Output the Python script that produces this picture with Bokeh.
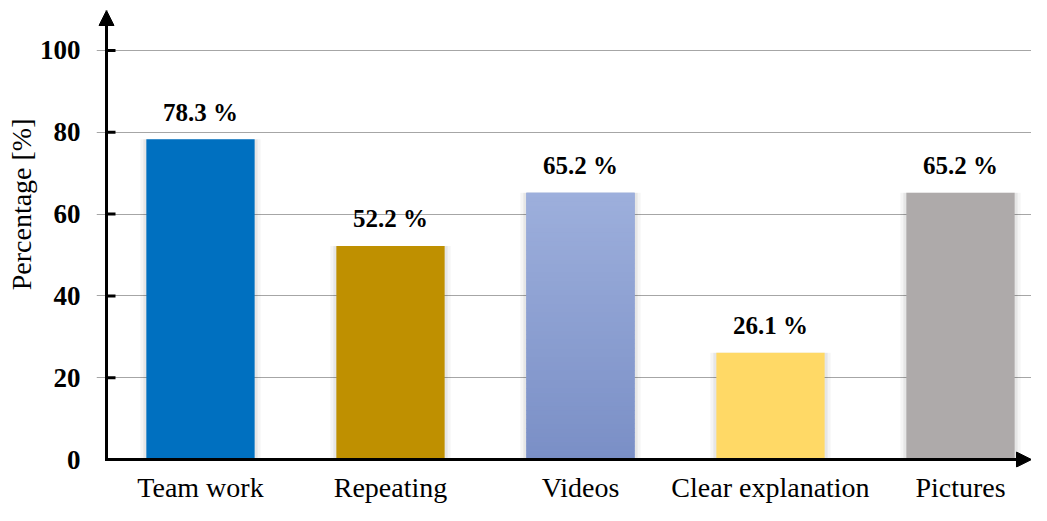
import numpy as np
from bokeh.plotting import figure
from bokeh.core.properties import value
from bokeh.models import (Range1d, FixedTicker, Arrow, NormalHead, Title,
                          ColumnDataSource)
from bokeh.embed import file_html
from bokeh.resources import INLINE

# ---- data ----
categories = ["Team work", "Repeating", "Videos", "Clear explanation", "Pictures"]
values = [78.3, 52.2, 65.2, 26.1, 65.2]
colors = ["#0070C0", "#BF9000", "#8A9ED2", "#FFD966", "#AEAAAA"]
gradients = [None, None, ("#7A8FC6", "#9DAFDC"), None, None]  # (bottom, top)
y_ticks = [0, 20, 40, 60, 80, 100]
y_title = "Percentage [%]"

FONT = "Liberation Serif"
AXFONT = '"Liberation Serif"'
BAR_W = 0.57
PX_X = 190.0          # px per category
X0 = -0.4947          # data x of the y-axis line
W, H = 1031, 505
LEFT = 96             # canvas x of frame left (axis line at LEFT+10)
TOP = 10
AXIS_Y = 462          # canvas y of the x-axis line
Y1 = 109.76
PX_Y = (AXIS_Y - TOP) / Y1
BOTTOM_BORDER = H - AXIS_Y - 8
Y0 = -8 / PX_Y
XS = X0 - 10 / PX_X
XE = XS + (W - LEFT) / PX_X

p = figure(width=W, height=H, output_backend="svg", toolbar_location=None,
           x_range=Range1d(XS, XE), y_range=Range1d(Y0, Y1),
           min_border_left=LEFT, min_border_right=0, min_border_top=TOP,
           min_border_bottom=BOTTOM_BORDER)
p.outline_line_color = None
p.background_fill_color = "white"
p.border_fill_color = "white"

xs = list(range(len(categories)))

# shadows
p.vbar(x=xs, top=values, width=BAR_W + 12 / PX_X, fill_color="black",
       fill_alpha=0.04, line_color=None)
p.vbar(x=xs, top=values, width=BAR_W + 6 / PX_X, fill_color="black",
       fill_alpha=0.06, line_color=None)

# bars
src = ColumnDataSource(dict(x=xs, top=values, color=colors,
                            label=[f"{v:.1f} %" for v in values]))
p.vbar(x="x", top="top", width=BAR_W, fill_color="color", line_color=None,
       source=src)

# gradient bars
N = 60
for i, (v, g) in enumerate(zip(values, gradients)):
    if g is None:
        continue
    c0 = np.array([int(g[0][k:k + 2], 16) for k in (1, 3, 5)], float)
    c1 = np.array([int(g[1][k:k + 2], 16) for k in (1, 3, 5)], float)
    bottoms, tops, cols = [], [], []
    for j in range(N):
        t = (j + 0.5) / N
        c = c0 + (c1 - c0) * t
        cols.append("#%02x%02x%02x" % tuple(int(round(z)) for z in c))
        bottoms.append(v * j / N)
        tops.append(min(v, v * (j + 1) / N + v * 0.002))
    p.vbar(x=[i] * N, bottom=bottoms, top=tops, width=BAR_W, fill_color=cols,
           line_color=None)

# value labels
p.text(x="x", y="top", text="label", source=src, y_offset=-27,
       text_align="center", text_baseline="alphabetic",
       text_font=value(FONT), text_font_size="25px",
       text_font_style="bold", text_color="black")

# grid
p.xgrid.visible = False
p.ygrid.grid_line_color = "#A6A6A6"
p.ygrid.grid_line_width = 1
p.ygrid.ticker = FixedTicker(ticks=y_ticks[1:])

# y axis (labels only; line and ticks drawn below)
p.yaxis.ticker = FixedTicker(ticks=y_ticks)
p.yaxis.axis_line_color = None
p.yaxis.major_tick_line_color = None
p.yaxis.minor_tick_line_color = None
p.yaxis.major_tick_in = 0
p.yaxis.major_tick_out = 0
p.yaxis.major_label_standoff = 16
p.yaxis.major_label_text_font = AXFONT
p.yaxis.major_label_text_font_size = "27px"
p.yaxis.major_label_text_font_style = "bold"
p.yaxis.major_label_text_color = "black"

# y ticks (inward, at the axis line)
n = len(y_ticks)
p.segment(x0=[X0] * n, y0=y_ticks, x1=[X0 + 9 / PX_X] * n, y1=y_ticks,
          line_width=3, line_color="black")

# x axis
p.xaxis.ticker = FixedTicker(ticks=xs)
p.xaxis.major_label_overrides = {i: c for i, c in enumerate(categories)}
p.xaxis.axis_line_color = None
p.xaxis.major_tick_line_color = None
p.xaxis.minor_tick_line_color = None
p.xaxis.major_tick_in = 0
p.xaxis.major_tick_out = 0
p.xaxis.major_label_standoff = 4
p.xaxis.major_label_text_font = AXFONT
p.xaxis.major_label_text_font_size = "28px"
p.xaxis.major_label_text_font_style = "normal"
p.xaxis.major_label_text_color = "black"

# axis lines with arrows
p.add_layout(Arrow(end=NormalHead(size=15, fill_color="black", line_color="black"),
                   x_start=X0, y_start=0, x_end=X0, y_end=Y1,
                   line_width=3, line_color="black"))
p.add_layout(Arrow(end=NormalHead(size=15, fill_color="black", line_color="black"),
                   x_start=X0 - 1.5 / PX_X, y_start=0, x_end=XE, y_end=0,
                   line_width=3, line_color="black"))

# y title
p.add_layout(Title(text=y_title, align="right", offset=108, standoff=0,
                   text_font=FONT, text_font_size="28px",
                   text_font_style="normal", text_color="black"), "left")

open("out.html", "w").write(file_html(p, INLINE))
